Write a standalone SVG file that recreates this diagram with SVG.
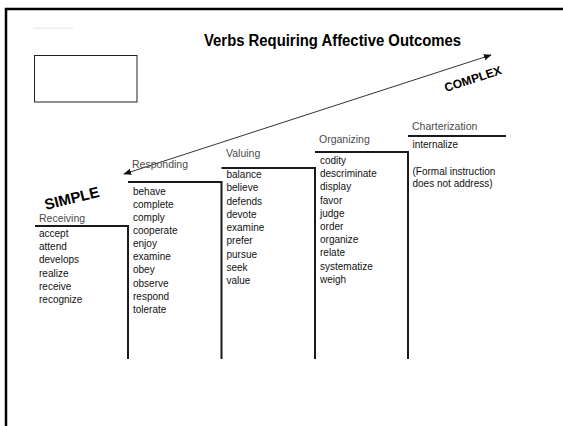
<svg xmlns="http://www.w3.org/2000/svg" width="563" height="426" viewBox="0 0 563 426">
<defs>
<style>
.w{font-family:"Liberation Sans",Arial,sans-serif;font-size:10px;fill:#111}
.lab{font-family:"Liberation Sans",Arial,sans-serif;font-size:10.5px;fill:#4a4a4a}
.step{fill:none;stroke:#1a1a1a;stroke-width:2}
.big{font-family:"Liberation Sans",Arial,sans-serif;font-weight:bold;fill:#000}
</style>
<marker id="ah" viewBox="0 0 10 10" refX="9" refY="5" markerWidth="8" markerHeight="8" markerUnits="userSpaceOnUse" orient="auto-start-reverse">
<path d="M0,1 L10,5 L0,9 Z" fill="#111"/>
</marker>
</defs>
<rect width="563" height="426" fill="#fff"/>
<g id="frame">
<path d="M6,426 V9 H563" fill="none" stroke="#000" stroke-width="2.5"/>
<rect x="33" y="27.5" width="40" height="1.5" fill="#eee"/>
</g>
<g id="box"><rect x="34.5" y="55.5" width="102.5" height="46.5" fill="#fff" stroke="#222" stroke-width="1"/></g>
<g id="title"><text class="big" x="204" y="46" font-size="16" textLength="257" lengthAdjust="spacingAndGlyphs">Verbs Requiring Affective Outcomes</text></g>
<g id="connectors">
<line x1="124" y1="174" x2="491" y2="55" stroke="#333" stroke-width="1" marker-start="url(#ah)" marker-end="url(#ah)"/>
</g>
<g id="complex"><text class="big" font-size="12" transform="translate(446,92) rotate(-18)">COMPLEX</text></g>
<g id="simple"><text class="big" font-size="15" transform="translate(46,210) rotate(-14)">SIMPLE</text></g>
<g id="steps">
<path class="step" d="M35,226 H128 V359"/>
<path class="step" d="M128,182 H221.5 V359"/>
<path class="step" d="M221.5,168 H315 V359"/>
<path class="step" d="M315,152 H408 V359"/>
<path class="step" d="M408,136 H506"/>
</g>
<g id="receiving">
<text class="lab" x="39" y="222">Receiving</text>
<text class="w" x="39" y="236.5">accept</text>
<text class="w" x="39" y="250">attend</text>
<text class="w" x="39" y="263">develops</text>
<text class="w" x="39" y="276.5">realize</text>
<text class="w" x="39" y="290">receive</text>
<text class="w" x="39" y="303">recognize</text>
</g>
<g id="responding">
<text class="lab" x="132" y="168">Responding</text>
<text class="w" x="133" y="194.5">behave</text>
<text class="w" x="133" y="207.5">complete</text>
<text class="w" x="133" y="220.5">comply</text>
<text class="w" x="133" y="233.7">cooperate</text>
<text class="w" x="133" y="247">enjoy</text>
<text class="w" x="133" y="260.2">examine</text>
<text class="w" x="133" y="273.4">obey</text>
<text class="w" x="133" y="286.6">observe</text>
<text class="w" x="133" y="299.8">respond</text>
<text class="w" x="133" y="313">tolerate</text>
</g>
<g id="valuing">
<text class="lab" x="226" y="157">Valuing</text>
<text class="w" x="226.5" y="178">balance</text>
<text class="w" x="226.5" y="191.3">believe</text>
<text class="w" x="226.5" y="204.5">defends</text>
<text class="w" x="226.5" y="217.8">devote</text>
<text class="w" x="226.5" y="231">examine</text>
<text class="w" x="226.5" y="244.3">prefer</text>
<text class="w" x="226.5" y="257.5">pursue</text>
<text class="w" x="226.5" y="270.8">seek</text>
<text class="w" x="226.5" y="284">value</text>
</g>
<g id="organizing">
<text class="lab" x="319" y="143">Organizing</text>
<text class="w" x="320" y="164">codity</text>
<text class="w" x="320" y="177.2">descriminate</text>
<text class="w" x="320" y="190.4">display</text>
<text class="w" x="320" y="203.6">favor</text>
<text class="w" x="320" y="216.8">judge</text>
<text class="w" x="320" y="230">order</text>
<text class="w" x="320" y="243.2">organize</text>
<text class="w" x="320" y="256.4">relate</text>
<text class="w" x="320" y="269.6">systematize</text>
<text class="w" x="320" y="282.8">weigh</text>
</g>
<g id="charterization">
<text class="lab" x="412" y="130">Charterization</text>
<text class="w" x="412.5" y="148">internalize</text>
<text class="w" x="412.5" y="174.5">(Formal instruction</text>
<text class="w" x="412.5" y="186.5">does not address)</text>
</g>
</svg>
